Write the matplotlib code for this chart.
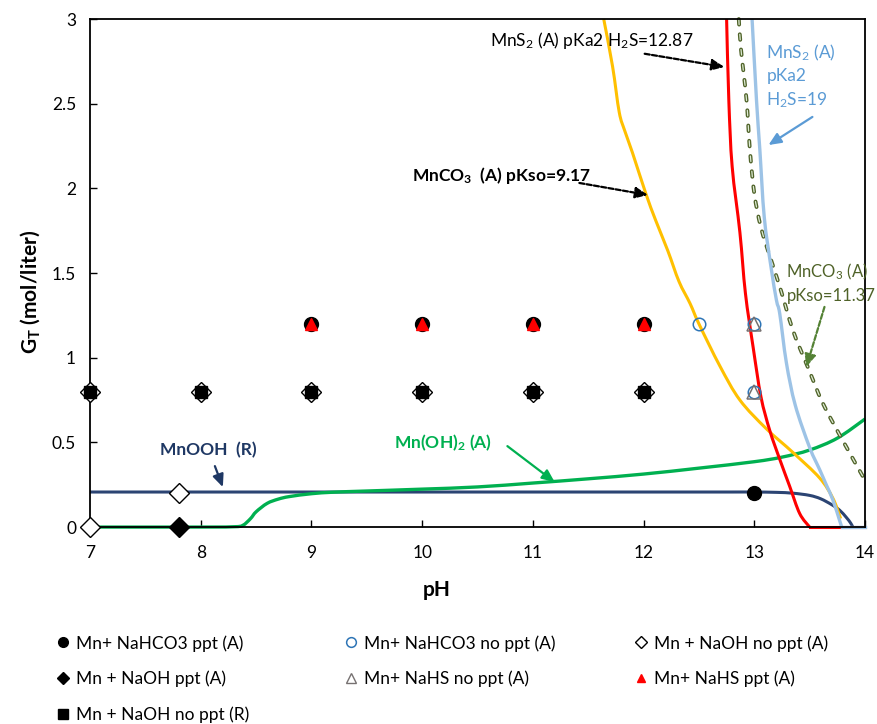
import matplotlib
matplotlib.use("Agg")
import matplotlib.pyplot as plt
from matplotlib.lines import Line2D
from matplotlib.path import Path
from matplotlib.patches import PathPatch

plt.rcParams['font.family'] = ['Lato', 'DejaVu Sans']
plt.rcParams['mathtext.default'] = 'regular'
plt.rcParams['lines.scale_dashes'] = False

# ---- curves (pH, G_T) ----
co3_917_ph = [11.64, 11.72, 11.78, 11.83, 11.90, 12.02, 12.11, 12.22, 12.32, 12.42, 12.50,
              12.69, 12.87, 13.11, 13.35, 13.59, 13.71, 13.78]
co3_917_g = [3.0, 2.72, 2.45, 2.34, 2.21, 1.97, 1.81, 1.63, 1.45, 1.32, 1.2,
             0.95, 0.75, 0.58, 0.44, 0.29, 0.17, 0.05]

mns_1287_ph = [12.75, 12.77, 12.80, 12.87, 12.92, 12.99, 13.06, 13.14, 13.23, 13.32, 13.41, 13.5]
mns_1287_g = [3.0, 2.52, 2.13, 1.74, 1.38, 1.06, 0.77, 0.57, 0.40, 0.24, 0.08, 0.0]
mns_1287_tail_ph = [13.5, 14.0]
mns_1287_tail_g = [0.0, 0.0]

mns_19_ph = [12.98, 13.02, 13.05, 13.09, 13.15, 13.20, 13.23, 13.29, 13.37, 13.50, 13.59,
             13.65, 13.71, 13.77, 13.79]
mns_19_g = [3.0, 2.52, 2.23, 1.83, 1.54, 1.34, 1.26, 0.97, 0.72, 0.47, 0.34,
            0.25, 0.16, 0.04, 0.0]
mns_19_tail_ph = [13.79, 14.0]
mns_19_tail_g = [0.0, 0.0]

co3_1137_ph = [12.86, 12.88, 12.93, 12.96, 13.0, 13.06, 13.15, 13.23, 13.35, 13.48, 13.62, 13.80, 13.98, 14.0]
co3_1137_g = [3.0, 2.82, 2.52, 2.23, 1.97, 1.77, 1.58, 1.42, 1.16, 0.95, 0.73, 0.51, 0.30, 0.28]

mnoh2_ph = [7.0, 8.0, 8.3, 8.38, 8.45, 8.5, 8.6, 8.7, 8.8, 9.0, 9.2, 9.5, 10.0, 10.5, 11.0,
            11.5, 12.0, 12.5, 13.0, 13.25, 13.5, 13.75, 14.0]
mnoh2_g = [0.0, 0.0, 0.002, 0.01, 0.05, 0.09, 0.14, 0.165, 0.18, 0.197, 0.206, 0.213, 0.224, 0.237, 0.26,
           0.285, 0.313, 0.348, 0.386, 0.413, 0.455, 0.525, 0.638]

mnooh_ph = [7.0, 8.0, 9.0, 10.0, 11.0, 12.0, 12.5, 12.8, 13.0, 13.2, 13.35, 13.5, 13.6, 13.7,
            13.77, 13.83, 13.87, 13.89]
mnooh_g = [0.207, 0.207, 0.207, 0.207, 0.207, 0.207, 0.207, 0.207, 0.207, 0.205, 0.200, 0.187, 0.167, 0.132,
           0.100, 0.058, 0.024, 0.0]

# ---- experiment points ----
hco3_ppt_ph = [9, 10, 11, 12, 13]
hco3_ppt_g = [1.2, 1.2, 1.2, 1.2, 0.2]
hco3_noppt_ph = [12.5, 13, 13]
hco3_noppt_g = [1.2, 1.2, 0.8]
naoh_noppt_a_ph = [7, 8, 9, 10, 11, 12, 7.8, 7]
naoh_noppt_a_g = [0.8, 0.8, 0.8, 0.8, 0.8, 0.8, 0.2, 0.0]
naoh_ppt_ph = [7.8]
naoh_ppt_g = [0.0]
nahs_noppt_ph = [13, 13]
nahs_noppt_g = [1.2, 0.8]
nahs_ppt_ph = [9, 10, 11, 12]
nahs_ppt_g = [1.2, 1.2, 1.2, 1.2]
naoh_noppt_r_ph = [7, 8, 9, 10, 11, 12]
naoh_noppt_r_g = [0.8, 0.8, 0.8, 0.8, 0.8, 0.8]


def smooth_path(xs, ys):
    """Catmull-Rom style bezier through the points (like Excel's smoothed line)"""
    pts = list(zip(xs, ys))
    n = len(pts)
    verts = [pts[0]]
    codes = [Path.MOVETO]
    for i in range(n - 1):
        p0 = pts[max(i - 1, 0)]
        p1 = pts[i]
        p2 = pts[i + 1]
        p3 = pts[min(i + 2, n - 1)]
        c1 = (p1[0] + (p2[0] - p0[0]) / 6, p1[1] + (p2[1] - p0[1]) / 6)
        c2 = (p2[0] - (p3[0] - p1[0]) / 6, p2[1] - (p3[1] - p1[1]) / 6)
        verts += [c1, c2, p2]
        codes += [Path.CURVE4] * 3
    return Path(verts, codes)


def curve(ax, xs, ys, **kw):
    ax.add_patch(PathPatch(smooth_path(xs, ys), fill=False, clip_on=False,
                           joinstyle='round', **kw))


fig = plt.figure(figsize=(8.78, 7.24), dpi=100)
ax = fig.add_axes([0.1025, 0.272, 0.8827, 0.7017])

# lines
curve(ax, mnooh_ph, mnooh_g, ec='#2B4473', lw=2.2, zorder=2)
curve(ax, mnoh2_ph, mnoh2_g, ec='#00B050', lw=2.4, zorder=2)
curve(ax, co3_917_ph, co3_917_g, ec='#FFC000', lw=2.2, zorder=2)
curve(ax, co3_1137_ph, co3_1137_g, ec='#4F6228', lw=2.8, ls=(0, (4, 7)),
      capstyle='round', zorder=2)
curve(ax, co3_1137_ph, co3_1137_g, ec='#DDEBD3', lw=0.9, ls=(0, (4, 7)),
      capstyle='round', zorder=2)
curve(ax, mns_1287_ph, mns_1287_g, ec='#FF0000', lw=2.2, zorder=2)
ax.plot(mns_1287_tail_ph, mns_1287_tail_g, color='#FF0000', lw=2.2, zorder=2, clip_on=False)
curve(ax, mns_19_ph, mns_19_g, ec='#9DC3E6', lw=2.4, zorder=2)
ax.plot(mns_19_tail_ph, mns_19_tail_g, color='#9DC3E6', lw=2.4, zorder=2, clip_on=False)

# markers
mk = dict(ls='none', clip_on=False)
ax.plot(hco3_ppt_ph, hco3_ppt_g, 'o', ms=10, color='black', zorder=3, **mk)
ax.plot(hco3_noppt_ph, hco3_noppt_g, 'o', ms=9, mfc='none', mec='#2E75B6', mew=1.1, zorder=3, **mk)
ax.plot(naoh_noppt_a_ph, naoh_noppt_a_g, 'D', ms=10, mfc='white', mec='black', mew=1.0, zorder=3, **mk)
ax.plot(naoh_ppt_ph, naoh_ppt_g, 'D', ms=10, color='black', zorder=3, **mk)
ax.plot(nahs_noppt_ph, nahs_noppt_g, '^', ms=10, mfc='none', mec='#767171', mew=1.1, zorder=3, **mk)
ax.plot(nahs_ppt_ph, nahs_ppt_g, '^', ms=8, color='#FF0000', zorder=4, **mk)
ax.plot(naoh_noppt_r_ph, naoh_noppt_r_g, 's', ms=9, color='black', zorder=4, **mk)

ax.set_xlim(7, 14)
ax.set_ylim(0, 3)
ax.set_xticks(range(7, 15))
ax.set_yticks([0, 0.5, 1, 1.5, 2, 2.5, 3])
ax.set_yticklabels(['0', '0.5', '1', '1.5', '2', '2.5', '3'])
ax.tick_params(direction='in', length=5, width=1, labelsize=12.5)
ax.tick_params(axis='x', pad=13)
ax.tick_params(axis='y', pad=10)
for sp in ax.spines.values():
    sp.set_linewidth(1.3)
    sp.set_color('black')

fig.text(437 / 878, 1 - 590 / 724, 'pH', ha='center', va='center', fontsize=15, fontweight='bold')
fig.text(30 / 878, 1 - 292 / 724, 'G$_T$ (mol/liter)', ha='center', va='center',
         fontsize=15, fontweight='bold', rotation=90)


def arrow(start, end, color, ls='-'):
    ax.annotate('', xy=end, xytext=start,
                arrowprops=dict(arrowstyle='-|>,head_length=0.5,head_width=0.22',
                                color=color, lw=1.6, ls=ls, shrinkA=0, shrinkB=0,
                                mutation_scale=15),
                annotation_clip=False, zorder=5)


# annotations
ax.text(10.61, 2.876, 'MnS$_2$ (A) pKa2 H$_2$S=12.87', fontsize=12.5, va='center')
arrow((12.01, 2.795), (12.73, 2.717), 'black', '--')

ax.text(9.906, 2.079, 'MnCO$_3$  (A) pKso=9.17', fontsize=12.5, fontweight='bold', va='center')
arrow((11.42, 2.032), (12.04, 1.961), 'black', '--')

ax.text(13.11, 2.86, 'MnS$_2$ (A)\npKa2\nH$_2$S=19', fontsize=12.5, color='#5B9BD5', va='top',
        linespacing=1.4)
arrow((13.525, 2.422), (13.128, 2.256), '#5B9BD5')

ax.text(13.29, 1.44, 'MnCO$_3$ (A)\npKso=11.37', fontsize=12, color='#4F6228', va='center',
        linespacing=1.45, clip_on=False)
arrow((13.634, 1.30), (13.47, 0.945), '#548235', '--')

ax.text(7.63, 0.455, 'MnOOH  (R)', fontsize=12.5, fontweight='bold', color='#1F3864', va='center')
arrow((8.128, 0.36), (8.2, 0.236), '#1F3864')

ax.text(9.75, 0.496, 'Mn(OH)$_2$ (A)', fontsize=12.5, fontweight='bold', color='#00B050', va='center')
arrow((10.77, 0.478), (11.197, 0.266), '#00B050')

# legend, laid out in three columns like the original
h = {
    'a': Line2D([], [], ls='none', marker='o', ms=7, color='black'),
    'b': Line2D([], [], ls='none', marker='o', ms=7, mfc='none', mec='#2E75B6', mew=1.1),
    'c': Line2D([], [], ls='none', marker='D', ms=6, mfc='white', mec='black', mew=1.0),
    'd': Line2D([], [], ls='none', marker='D', ms=6, color='black'),
    'e': Line2D([], [], ls='none', marker='^', ms=7, mfc='none', mec='#767171', mew=1.0),
    'f': Line2D([], [], ls='none', marker='^', ms=6, color='#FF0000'),
    'g': Line2D([], [], ls='none', marker='s', ms=7, color='black'),
}
labels = {
    'a': 'Mn+ NaHCO3 ppt (A)',
    'b': 'Mn+ NaHCO3 no ppt (A)',
    'c': 'Mn + NaOH no ppt (A)',
    'd': 'Mn + NaOH ppt (A)',
    'e': 'Mn+ NaHS no ppt (A)',
    'f': 'Mn+ NaHS ppt (A)',
    'g': 'Mn + NaOH no ppt (R)',
}
columns = [(['a', 'd', 'g'], 56), (['b', 'e'], 344), (['c', 'f'], 634)]
for keys, x0 in columns:
    leg = fig.legend([h[k] for k in keys], [labels[k] for k in keys],
                     loc='upper left', bbox_to_anchor=(x0 / 878, 1 - 635 / 724),
                     frameon=False, fontsize=12.5, handlelength=0.8, handletextpad=0.35,
                     borderpad=0, borderaxespad=0, labelspacing=1.1)

fig.savefig('out.png', dpi=100)
